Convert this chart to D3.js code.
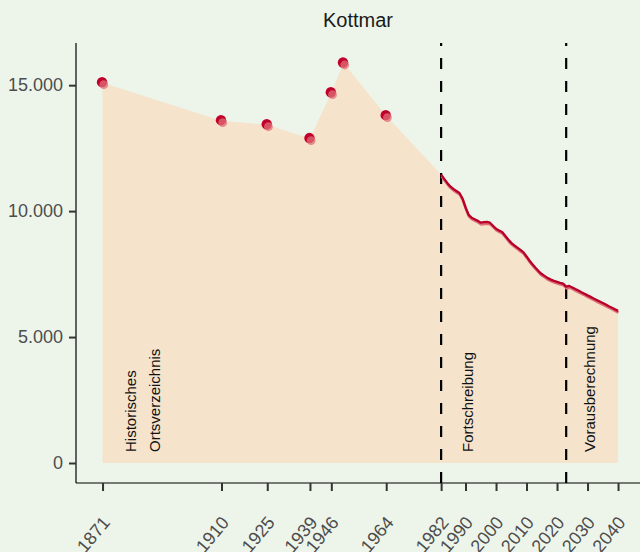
<!DOCTYPE html>
<html><head><meta charset="utf-8">
<script src="https://cdn.jsdelivr.net/npm/d3@7"></script>
<style>body{margin:0;background:#edf5eb;}svg{display:block;font-family:"Liberation Sans",Arial,sans-serif;}</style>
</head><body><svg id="chart" width="640" height="552"></svg>
<script>
// Historical census points (Historisches Ortsverzeichnis)
const histYears = [1871, 1910, 1925, 1939, 1946, 1950, 1964];
const histValues = [15100, 13590, 13430, 12880, 14700, 15880, 13790];
// Annual population (Fortschreibung)
const fortYears = d3.range(1982, 2023);
const fortValues = [11450, 11280, 11120, 10980, 10880, 10800, 10720, 10500, 10150, 9850,
  9740, 9680, 9620, 9540, 9560, 9570, 9540, 9420, 9300, 9230,
  9170, 9020, 8870, 8740, 8640, 8550, 8460, 8360, 8200, 8030,
  7880, 7740, 7610, 7500, 7420, 7340, 7280, 7230, 7190, 7150, 7120];
// Projection (Vorausberechnung)
const projYears = d3.range(2023, 2041);
const projValues = [7000, 7030, 6970, 6905, 6845, 6780, 6720, 6655, 6595, 6530,
  6470, 6410, 6350, 6290, 6225, 6165, 6100, 6040];
const tickYears = [1871, 1910, 1925, 1939, 1946, 1964, 1982, 1990, 2000, 2010, 2020, 2030, 2040];
const yTicks = [0, 5000, 10000, 15000];
const breakYears = [1982, 2023];
const sectionLabels = [
  {year: 1882, lines: ["Historisches", "Ortsverzeichnis"]},
  {year: 1992.3, lines: ["Fortschreibung"]},
  {year: 2032.3, lines: ["Vorausberechnung"]}
];
const title = "Kottmar";

const svg = d3.select("#chart");
const x = d3.scaleLinear().domain([1862.3, 2047.2]).range([76, 640]);
const y = d3.scaleLinear().domain([-794, 16674]).range([483, 43]);
const fmt = v => d3.format(",")(v).replace(/,/g, ".");

const hist = histYears.map((yr, i) => ({yr, v: histValues[i]}));
const fort = fortYears.map((yr, i) => ({yr, v: fortValues[i]}));
const proj = projYears.map((yr, i) => ({yr, v: projValues[i]}));
const lineData = fort.concat(proj);
const all = hist.concat(lineData);

// area
svg.append("path").datum(all)
  .attr("d", d3.area().x(d => x(d.yr)).y0(y(0)).y1(d => y(d.v)))
  .attr("fill", "#f5e3cc");

// dashed vertical lines
breakYears.forEach(b => {
  svg.append("line").attr("x1", x(b)).attr("x2", x(b)).attr("y1", 483).attr("y2", 43)
    .attr("stroke", "#000").attr("stroke-width", 2.2).attr("stroke-dasharray", "11,12");
});

// line: shadow + main
const lineGen = d3.line().x(d => x(d.yr)).y(d => y(d.v));
svg.append("path").datum(lineData).attr("d", lineGen)
  .attr("transform", "translate(0.5,1.6)")
  .attr("fill", "none").attr("stroke", "#dd6e76").attr("stroke-width", 2.8).attr("stroke-linejoin", "round");
svg.append("path").datum(lineData).attr("d", lineGen)
  .attr("fill", "none").attr("stroke", "#b8002b").attr("stroke-width", 2.3).attr("stroke-linejoin", "round");

// points
svg.append("g").selectAll("circle").data(hist).join("circle")
  .attr("cx", d => x(d.yr) - 0.5).attr("cy", d => y(d.v) - 0.5).attr("r", 5.2).attr("fill", "#c0002a");
svg.append("g").selectAll("circle").data(hist).join("circle")
  .attr("cx", d => x(d.yr) + 1.2).attr("cy", d => y(d.v) + 2).attr("r", 4.4).attr("fill", "#e07078").attr("opacity", 0.75);

// section labels
sectionLabels.forEach(s => {
  s.lines.forEach((t, i) => {
    const bx = x(s.year) + i * 24;
    svg.append("text").attr("transform", `translate(${bx},452) rotate(-90)`)
      .attr("font-size", 15).attr("fill", "#111").text(t);
  });
});

// axes
svg.append("line").attr("x1", 76).attr("x2", 76).attr("y1", 43).attr("y2", 483).attr("stroke", "#000").attr("stroke-width", 1.2);
svg.append("line").attr("x1", 76).attr("x2", 640).attr("y1", 483).attr("y2", 483).attr("stroke", "#000").attr("stroke-width", 1.2);

const yAxis = d3.axisLeft(y).tickValues(yTicks).tickFormat(fmt).tickSize(7).tickPadding(6);
const gy = svg.append("g").attr("transform", "translate(76,0)").call(yAxis);
gy.select(".domain").remove();
gy.selectAll(".tick line").attr("stroke", "#333").attr("stroke-width", 2);
gy.selectAll(".tick text").attr("font-size", 18).attr("fill", "#4d4d4d").attr("font-family", "Liberation Sans, Arial, sans-serif");

const xAxis = d3.axisBottom(x).tickValues(tickYears).tickFormat(d3.format("d")).tickSize(8);
const gx = svg.append("g").attr("transform", "translate(0,483)").call(xAxis);
gx.select(".domain").remove();
gx.selectAll(".tick line").attr("stroke", "#333").attr("stroke-width", 2);
gx.selectAll(".tick text").attr("font-size", 18).attr("fill", "#4d4d4d")
  .attr("font-family", "Liberation Sans, Arial, sans-serif")
  .attr("text-anchor", "end").attr("y", 0).attr("dy", 0)
  .attr("transform", "translate(8,40) rotate(-50)");

// title
svg.append("text").attr("x", 358).attr("y", 27).attr("text-anchor", "middle")
  .attr("font-size", 20).attr("fill", "#1a1a1a").text(title);
</script></body></html>
